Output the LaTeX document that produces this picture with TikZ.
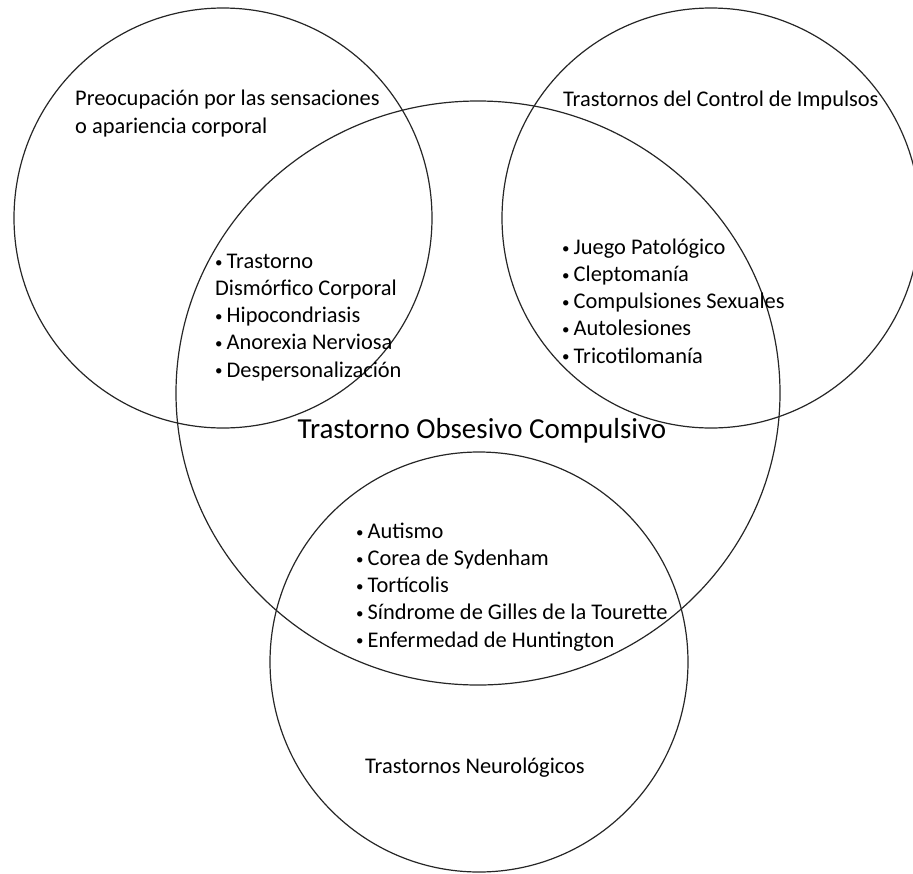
\documentclass[tikz,border=0pt]{standalone}
\usepackage{fontspec}
\setmainfont{Carlito}
\newcommand\punto{\makebox[11.5pt][l]{\raisebox{1.2pt}{\fontsize{15}{15}\selectfont\textbullet}}}

\begin{document}
\begin{tikzpicture}[x=1pt, y=-1pt,
    venn/.style={draw=black!85, line width=1.2pt},
    texto/.style={inner sep=0pt, anchor=base west, align=left, font=\fontsize{22.4}{27.2}\selectfont},
    titulo/.style={inner sep=0pt, anchor=base, font=\fontsize{29}{35}\selectfont}
  ]
\useasboundingbox (0,0) rectangle (913,873);

% Circles of the diagram
\draw[venn] (223,218) ellipse[x radius=209, y radius=210];
\draw[venn] (711,218) ellipse[x radius=209, y radius=210];
\draw[venn] (478,393) ellipse[x radius=302, y radius=292];
\draw[venn] (479,662) ellipse[x radius=209, y radius=210];

% Group titles (placed at the baseline of the last line)
\node[texto] (preoc) at (75,133) {Preocupación por las sensaciones\\o apariencia corporal};
\node[texto] (impul) at (563,106) {Trastornos del Control de Impulsos};
\node[titulo] (toc) at (482,438) {Trastorno Obsesivo Compulsivo};
\node[texto] (neuro) at (365,773) {Trastornos Neurológicos};

% Lists in the intersections
\node[texto] (lista-preoc) at (215,377) {\punto Trastorno\\Dismórfico Corporal\\\punto Hipocondriasis\\\punto Anorexia Nerviosa\\\punto Despersonalización};
\node[texto] (lista-impul) at (562,363) {\punto Juego Patológico\\\punto Cleptomanía\\\punto Compulsiones Sexuales\\\punto Autolesiones\\\punto Tricotilomanía};
\node[texto] (lista-neuro) at (356,647) {\punto Autismo\\\punto Corea de Sydenham\\\punto Tortícolis\\\punto Síndrome de Gilles de la Tourette\\\punto Enfermedad de Huntington};

\end{tikzpicture}
\end{document}
